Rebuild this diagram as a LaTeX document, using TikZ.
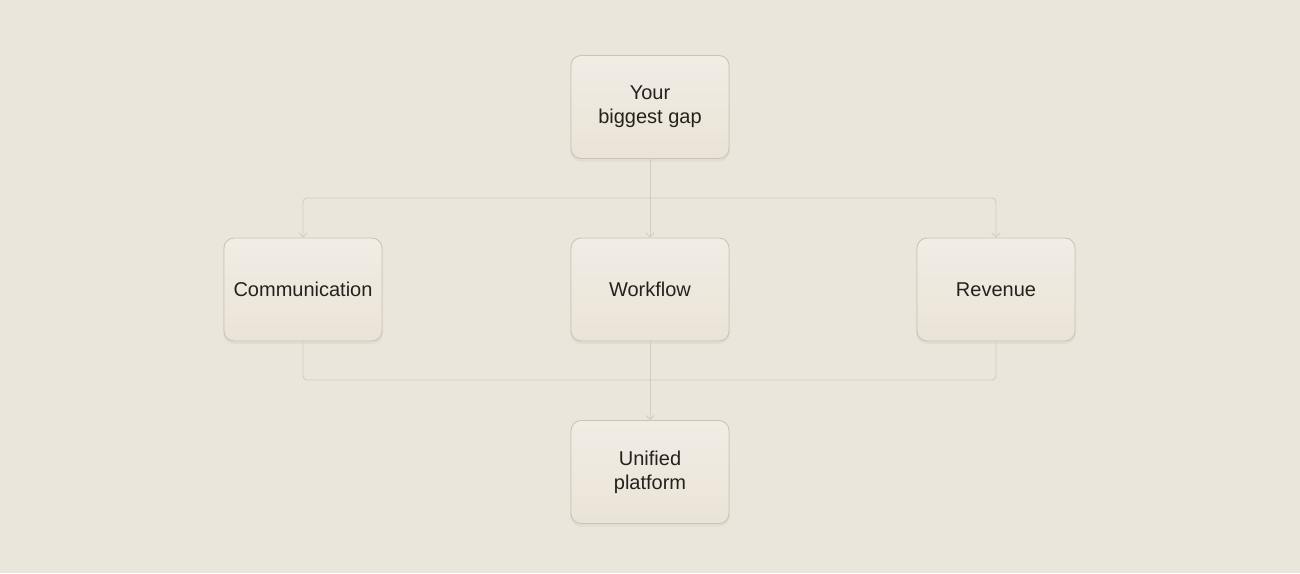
\documentclass[tikz,border=0pt]{standalone}
\usepackage{fontspec}
\setmainfont{Liberation Sans}
\usetikzlibrary{arrows.meta}
\definecolor{bg}{HTML}{EBE6DC}
\definecolor{boxtop}{HTML}{F1EDE5}
\definecolor{boxbot}{HTML}{EAE3D7}
\definecolor{boxline}{HTML}{CCC3B7}
\definecolor{conncol}{HTML}{D3CCC1}
\definecolor{txt}{HTML}{26211C}
\tikzset{
  stepbox/.style={draw=boxline, line width=0.9pt, rounded corners=10pt,
    top color=boxtop, bottom color=boxbot,
    minimum width=158pt, minimum height=103pt, inner sep=0pt,
    align=center, text=txt, font=\fontsize{20}{24}\selectfont},
  boxshadow/.style={fill=black, opacity=0.035, rounded corners=11pt,
    minimum width=160pt, minimum height=104pt, inner sep=0pt},
  conn/.style={draw=conncol, line width=0.9pt, -{Straight Barb[length=4pt,width=8pt,line width=0.8pt]}},
  plainconn/.style={draw=conncol, line width=0.9pt}
}
\begin{document}
\begin{tikzpicture}[x=1pt,y=-1pt]
\fill[bg] (0,0) rectangle (1300,573);
\useasboundingbox (0,0) rectangle (1300,573);
\foreach \p/\n in {{(650,109.5)}/s1,{(303,292)}/s2,{(650,292)}/s3,{(996,292)}/s4,{(650,474.5)}/s5}
  \node[boxshadow] (\n) at \p {};
\node[stepbox] (top) at (650,107) {Your\\biggest gap};
\node[stepbox] (comm) at (303,289.5) {Communication};
\node[stepbox] (wf) at (650,289.5) {Workflow};
\node[stepbox] (rev) at (996,289.5) {Revenue};
\node[stepbox] (uni) at (650,472) {Unified\\platform};
\coordinate (split) at (650,198);
\coordinate (merge) at (650,380);
\draw[conn] (top.south) -- (wf.north);
\draw[conn, rounded corners=4pt] (split) -| (comm.north);
\draw[conn, rounded corners=4pt] (split) -| (rev.north);
\draw[plainconn, rounded corners=4pt] (comm.south) |- (merge) -| (rev.south);
\draw[conn] (wf.south) -- (uni.north);
\end{tikzpicture}
\end{document}
